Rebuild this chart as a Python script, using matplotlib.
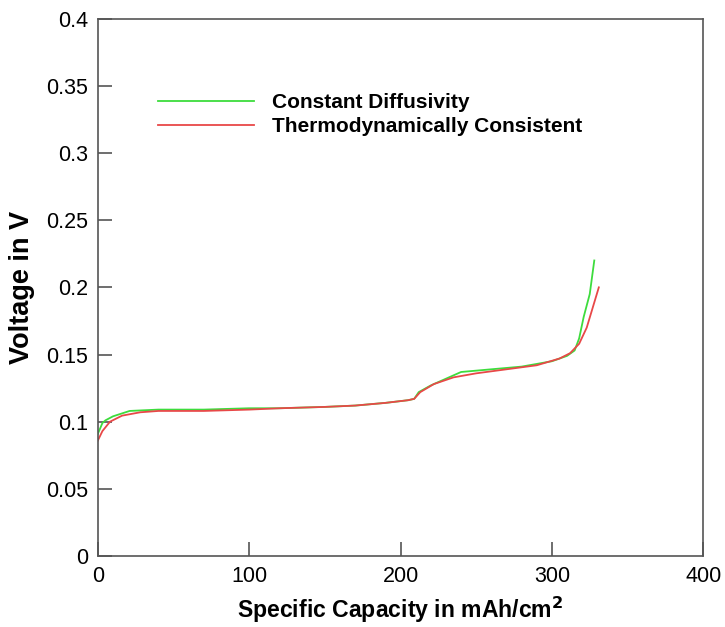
import matplotlib.pyplot as plt

plt.rcParams['font.family'] = ['Liberation Sans', 'DejaVu Sans']

cap_const = [0, 3, 5, 10, 21, 40, 70, 100, 120, 150, 170, 190, 205, 209,
             212, 220, 230, 240, 260, 280, 300, 310, 315, 318, 321, 325, 328]
v_const = [0.091, 0.099, 0.101, 0.104, 0.108, 0.109, 0.109, 0.110, 0.110,
           0.111, 0.112, 0.114, 0.116, 0.117, 0.122, 0.127, 0.132, 0.137,
           0.139, 0.141, 0.145, 0.149, 0.153, 0.162, 0.178, 0.195, 0.220]

cap_thermo = [0, 3, 8, 16, 28, 40, 70, 100, 120, 150, 170, 190, 205, 209,
              213, 222, 235, 250, 270, 290, 305, 312, 318, 323, 327, 331]
v_thermo = [0.086, 0.093, 0.100, 0.1045, 0.107, 0.108, 0.108, 0.109, 0.110,
            0.111, 0.112, 0.114, 0.116, 0.117, 0.122, 0.128, 0.133, 0.136,
            0.139, 0.142, 0.147, 0.151, 0.158, 0.170, 0.185, 0.200]

fig = plt.figure(figsize=(7.25, 6.27), dpi=100)
ax = fig.add_axes([0.135, 0.1132, 0.835, 0.857])

ax.plot(cap_const, v_const, color='#3ddc3d', lw=1.3, label='Constant Diffusivity')
ax.plot(cap_thermo, v_thermo, color='#e84848', lw=1.3, label='Thermodynamically Consistent')

ax.set_xlim(0, 400)
ax.set_ylim(0, 0.4)
ax.set_xticks([0, 100, 200, 300, 400])
ax.set_yticks([0, 0.05, 0.1, 0.15, 0.2, 0.25, 0.3, 0.35, 0.4])
ax.set_yticklabels(['0', '0.05', '0.1', '0.15', '0.2', '0.25', '0.3', '0.35', '0.4'])
ax.tick_params(direction='in', length=10, width=1.2, color='#555555',
               labelsize=15.5, pad=7)
for s in ax.spines.values():
    s.set_color('#555555')
    s.set_linewidth(1.2)

ax.set_xlabel('Specific Capacity in mAh/cm$^\\mathbf{2}$', fontsize=16.6, fontweight='bold', labelpad=6)
ax.set_ylabel('Voltage in V', fontsize=19.5, fontweight='bold', labelpad=8)

leg = ax.legend(loc='upper left', bbox_to_anchor=(0.068, 0.896), frameon=False,
                prop={'weight': 'bold', 'size': 15}, handlelength=4.6,
                handletextpad=0.9, labelspacing=0.22)

fig.savefig('out.png', dpi=100)
